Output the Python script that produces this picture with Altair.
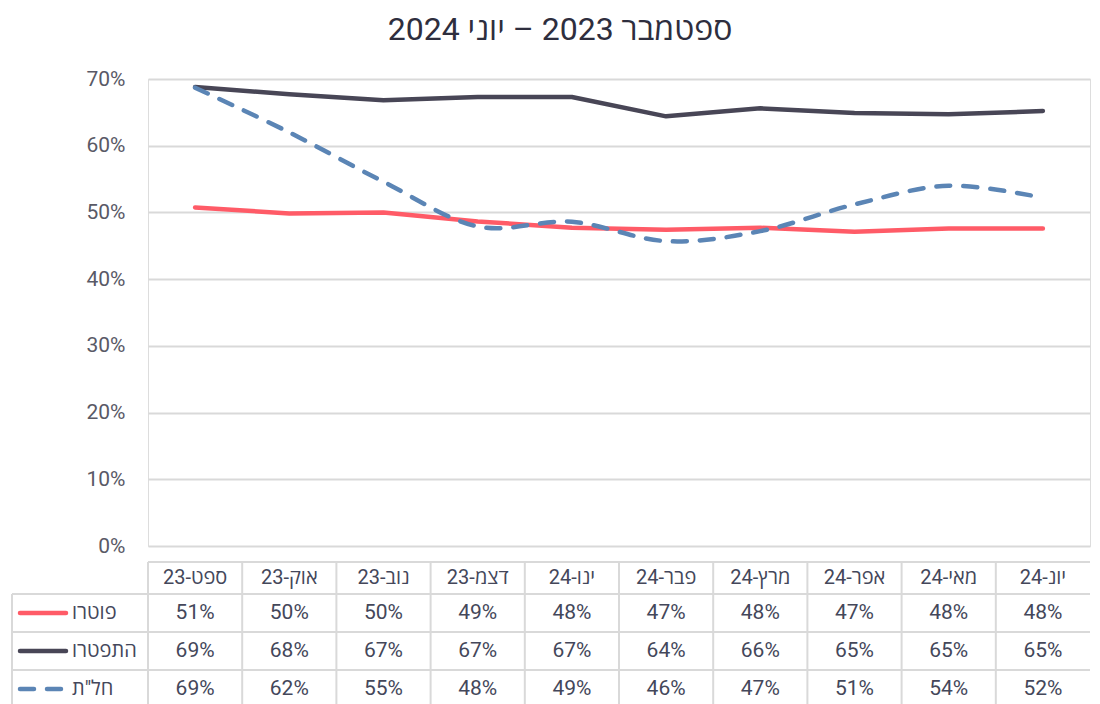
import altair as alt
import pandas as pd

# ---- data ----
months = ["ספט-23", "אוק-23", "נוב-23", "דצמ-23", "ינו-24",
          "פבר-24", "מרץ-24", "אפר-24", "מאי-24", "יונ-24"]
series_names = ["פוטרו", "התפטרו", 'חל"ת']
fired = [0.5075, 0.4985, 0.500, 0.4865, 0.477, 0.474, 0.477, 0.471, 0.476, 0.476]
resigned = [0.688, 0.677, 0.668, 0.673, 0.673, 0.644, 0.656, 0.649, 0.647, 0.652]
furlough = [0.687, 0.620, 0.546, 0.479, 0.486, 0.457, 0.472, 0.512, 0.540, 0.522]
y_ticks = [0, 0.1, 0.2, 0.3, 0.4, 0.5, 0.6, 0.7]
title_text = "ספטמבר 2023 – יוני 2024"

# ---- styles / layout ----
colors = ["#FF5B67", "#484656", "#5B85B5"]
FONT = "Roboto, 'Open Sans', 'Liberation Sans', sans-serif"
GRID = "#D9D9D9"
TXT = "#44475A"
W, H = 942, 467
row_y = [534, 572, 610]          # centers of the table rows
header_y = 499
borders_y = [515, 553, 591, 629]  # lines that span the label column too
table_top = 483
table_bottom = 629
left_x = -136

rows = []
for name, vals in zip(series_names, [fired, resigned, furlough]):
    for m, v in zip(months, vals):
        rows.append({"month": m, "series": name, "value": v})
df = pd.DataFrame(rows)
mdf = pd.DataFrame({"month": months})
one = pd.DataFrame({"k": [0]})

band = alt.Scale(type="band", domain=months, paddingInner=0, paddingOuter=0)


def xc(pos=0.5):
    return alt.X("month:N", scale=band, axis=None, bandPosition=pos)


y_enc = alt.Y(
    "value:Q",
    scale=alt.Scale(domain=[0, 0.7], nice=False, zero=True),
    axis=alt.Axis(values=y_ticks, format=".0%", grid=True, gridColor=GRID,
                  gridWidth=2, domain=False, ticks=False, labelFontSize=21,
                  labelFont=FONT, labelColor="#595966", labelPadding=23,
                  title=None),
)
color_enc = alt.Color("series:N", scale=alt.Scale(domain=series_names, range=colors),
                      legend=None)

layers = []

# table borders
layers.append(alt.Chart(one).mark_rule(color=GRID, strokeWidth=2).encode(
    x=alt.value(0), x2=alt.value(W), y=alt.value(table_top)))
for by in borders_y:
    layers.append(alt.Chart(one).mark_rule(color=GRID, strokeWidth=2).encode(
        x=alt.value(left_x), x2=alt.value(W), y=alt.value(by)))
layers.append(alt.Chart(mdf).mark_rule(color=GRID, strokeWidth=2).encode(
    x=xc(0), y=alt.value(table_top), y2=alt.value(table_bottom)))
layers.append(alt.Chart(one).mark_rule(color=GRID, strokeWidth=2).encode(
    x=alt.value(left_x), y=alt.value(borders_y[0]), y2=alt.value(table_bottom)))

# lines
solid = alt.Chart(df).transform_filter(
    alt.FieldOneOfPredicate(field="series", oneOf=series_names[:2])
).mark_line(strokeWidth=4.5, strokeCap="round", strokeJoin="round").encode(
    x=xc(), y=y_enc, color=color_enc)
dashed = alt.Chart(df).transform_filter(
    alt.datum.series == series_names[2]
).mark_line(strokeWidth=4.5, strokeCap="round", strokeDash=[14, 13],
            interpolate="cardinal", color=colors[2]).encode(x=xc(), y=y_enc)
layers += [solid, dashed]

# header row
layers.append(alt.Chart(mdf).mark_text(font=FONT, fontSize=20, color=TXT,
                                       baseline="middle").encode(
    x=xc(), y=alt.value(header_y), text="month:N"))

# value rows + legend column
for i, name in enumerate(series_names):
    layers.append(alt.Chart(df).transform_filter(alt.datum.series == name).mark_text(
        font=FONT, fontSize=21, color=TXT, baseline="middle").encode(
        x=xc(), y=alt.value(row_y[i]), text=alt.Text("value:Q", format=".0%")))
    sdf = pd.DataFrame({"series": [name]})
    rule_kw = dict(strokeWidth=4.5, strokeCap="round", color=colors[i])
    if i == 2:
        rule_kw["strokeDash"] = [14, 13]
    layers.append(alt.Chart(sdf).mark_rule(**rule_kw).encode(
        x=alt.value(-128), x2=alt.value(-82), y=alt.value(row_y[i])))
    layers.append(alt.Chart(sdf).mark_text(font=FONT, fontSize=20, color=TXT,
                                           align="left", baseline="middle").encode(
        x=alt.value(-76), y=alt.value(row_y[i]), text="series:N"))

chart = alt.layer(*layers).properties(
    width=W, height=H,
    title=alt.TitleParams(title_text, font=FONT, fontSize=32, fontWeight="normal",
                          color="#2E2E3E", anchor="middle", frame="bounds",
                          offset=21.5, dx=9),
    padding={"left": 3, "top": 5, "right": 0, "bottom": 0},
).configure_view(stroke=None).configure(background="white")

chart.save("out.html", embed_options={"renderer": "svg", "actions": False})
